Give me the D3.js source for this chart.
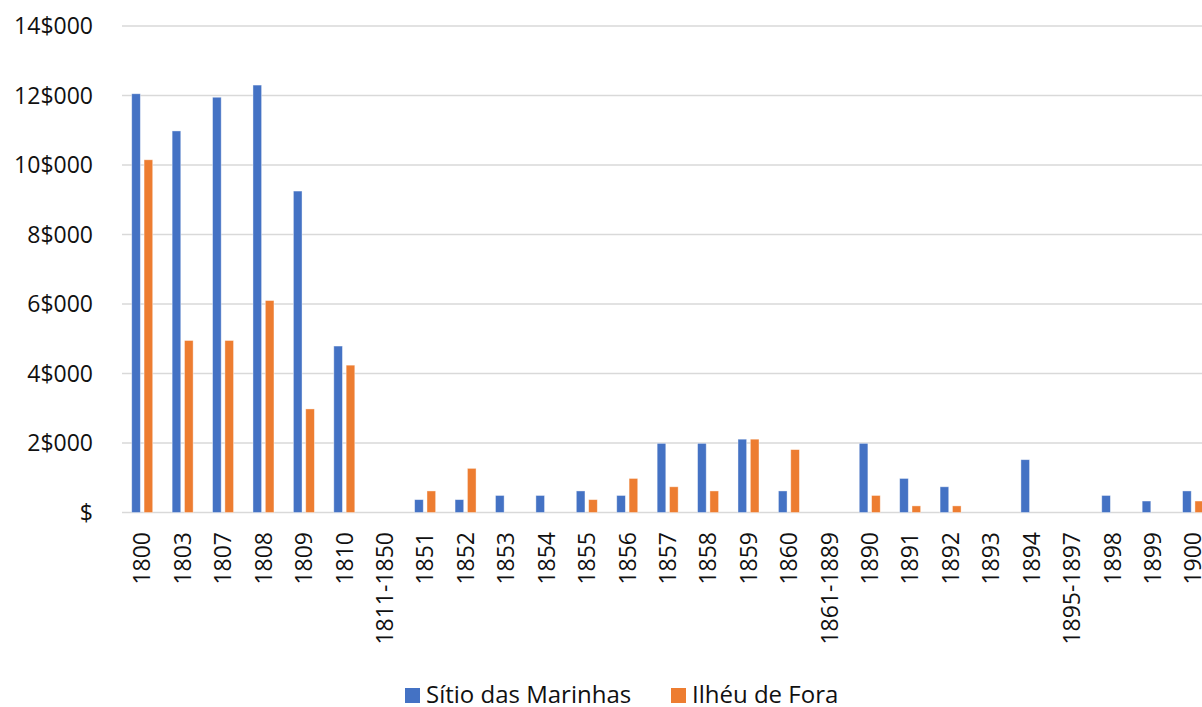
<!DOCTYPE html>
<html>
<head>
<meta charset="utf-8">
<script src="https://cdn.jsdelivr.net/npm/d3@7"></script>
<style>
  html, body { margin: 0; padding: 0; background: #fff; overflow: hidden; }
  text { font-family: "Open Sans", "Noto Sans", sans-serif; fill: #111; }
</style>
</head>
<body>
<svg id="chart" width="1202" height="707"></svg>
<script>
const categories = ["1800","1803","1807","1808","1809","1810","1811-1850","1851","1852","1853","1854","1855","1856","1857","1858","1859","1860","1861-1889","1890","1891","1892","1893","1894","1895-1897","1898","1899","1900"];
const sitioValues = [12050,10980,11950,12300,9250,4790,0,370,370,490,490,620,490,1990,1990,2110,620,0,1990,980,740,0,1520,0,490,330,620];
const ilheuValues = [10150,4950,4950,6100,2980,4240,0,620,1270,0,0,370,980,740,620,2110,1810,0,490,190,190,0,0,0,0,0,330];
const seriesNames = ["Sítio das Marinhas","Ilhéu de Fora"];
const seriesColors = ["#4472c4","#ed7d31"];
const yTicks = [0,2000,4000,6000,8000,10000,12000,14000];

const svg = d3.select("#chart");
const x = d3.scaleBand().domain(categories).range([122, 1213.3]).padding(0);
const y = d3.scaleLinear().domain([0, 14000]).range([512.5, 26]);
const xInner = d3.scaleBand().domain([0,1]).range([-10.5, 10.5]).paddingInner(0.3);

const fmt = v => v === 0 ? "$" : (v/1000) + "$000";

// gridlines
svg.append("g").selectAll("line").data(yTicks).join("line")
  .attr("x1", 122).attr("x2", 1213)
  .attr("y1", d => y(d)).attr("y2", d => y(d))
  .attr("stroke", "#d9d9d9").attr("stroke-width", 1.5);

// y labels
svg.append("g").selectAll("text").data(yTicks).join("text")
  .attr("x", 93).attr("y", d => y(d)).attr("dy", "0.36em")
  .attr("text-anchor", "end").attr("font-size", 23)
  .text(fmt);

// bars
const series = [sitioValues, ilheuValues];
series.forEach((vals, si) => {
  svg.append("g").selectAll("rect").data(categories).join("rect")
    .attr("x", (c) => x(c) + x.bandwidth()/2 + xInner(si))
    .attr("width", xInner.bandwidth())
    .attr("y", (c, i) => y(vals[i]))
    .attr("height", (c, i) => y(0) - y(vals[i]))
    .attr("fill", seriesColors[si])
    .attr("stroke", "rgba(255,255,255,0.5)").attr("stroke-width", 0.8)
    .style("display", (c, i) => vals[i] > 0 ? null : "none");
});

// x labels
svg.append("g").selectAll("text").data(categories).join("text")
  .attr("transform", c => `translate(${x(c) + x.bandwidth()/2},532) rotate(-90)`)
  .attr("dy", "0.36em")
  .attr("text-anchor", "end").attr("font-size", 23)
  .text(c => c);

// legend
const legendX = [405, 671];
const lg = svg.append("g");
seriesNames.forEach((n, i) => {
  lg.append("rect").attr("x", legendX[i]).attr("y", 688).attr("width", 15).attr("height", 15).attr("fill", seriesColors[i]);
  lg.append("text").attr("x", legendX[i] + 21).attr("y", 695).attr("dy", "0.35em")
    .attr("font-size", 24).text(n);
});
</script>
</body>
</html>
